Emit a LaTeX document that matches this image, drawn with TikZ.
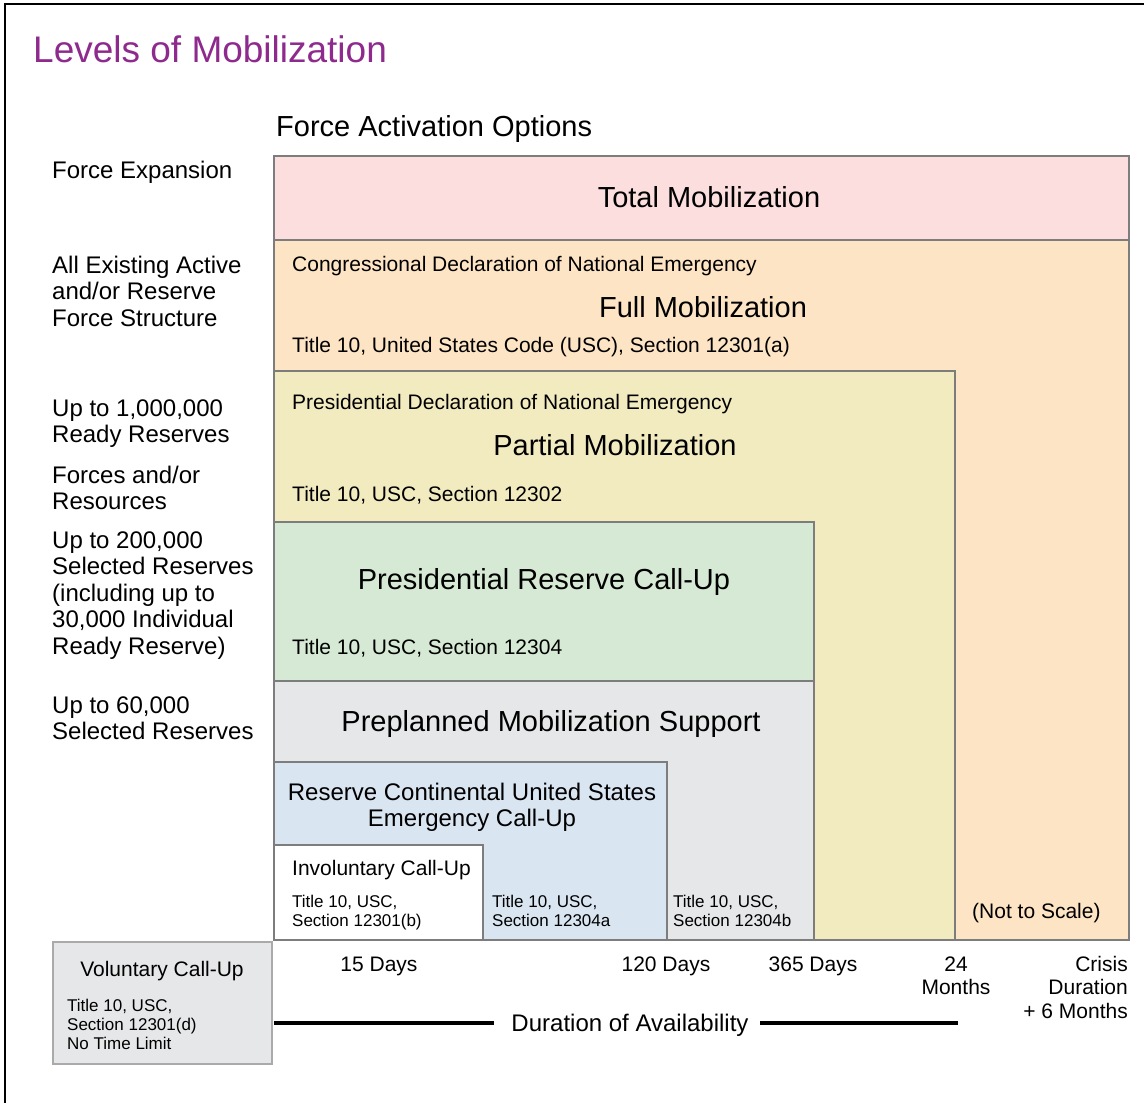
\documentclass[tikz,border=0pt]{standalone}
\usepackage{fontspec}
\setmainfont{Liberation Sans}
\definecolor{ttl}{RGB}{142,42,142}
\definecolor{cpink}{RGB}{252,222,223}
\definecolor{corange}{RGB}{253,228,196}
\definecolor{cyellow}{RGB}{243,235,192}
\definecolor{cgreen}{RGB}{213,233,212}
\definecolor{cgray}{RGB}{230,231,232}
\definecolor{cblue}{RGB}{218,229,242}
\definecolor{cedge}{RGB}{125,125,125}
\definecolor{cvedge}{RGB}{170,170,170}
\newcommand{\fsz}[1]{\fontsize{#1}{#1}\selectfont}
\tikzset{
  box/.style={draw=cedge, line width=1.5pt},
  big/.style={inner sep=0pt, anchor=base, font=\fsz{29}},
  mid/.style={inner sep=0pt, anchor=base west, font=\fsz{21}},
  sml/.style={inner sep=0pt, anchor=base west, align=left, font={\fontsize{17}{19}\selectfont}},
  lbl/.style={inner sep=0pt, anchor=base west, align=left, font={\fontsize{24}{26.6}\selectfont}},
  tick/.style={inner sep=0pt, anchor=base, align=center, font={\fontsize{21}{23.5}\selectfont}},
}
\begin{document}
\begin{tikzpicture}[x=1pt,y=-1pt]
\useasboundingbox (0,0) rectangle (1144,1103);
% frame
\draw[line width=2.5pt] (5,1103) -- (5,4) -- (1144,4);
% title
\node[inner sep=0pt, anchor=base west, font=\fsz{37}, text=ttl] (title) at (33,62) {Levels of Mobilization};
\node[inner sep=0pt, anchor=base west, font=\fsz{29}] (fao) at (276,136) {Force Activation Options};
% boxes
\draw[box, fill=corange] (274,240) rectangle (1129,940);
\draw[box, fill=cpink] (274,156) rectangle (1129,240);
\draw[box, fill=cyellow] (274,371) rectangle (955,940);
\draw[box, fill=cgreen] (274,522) rectangle (814,681);
\draw[box, fill=cgray] (274,681) rectangle (814,940);
\draw[box, fill=cblue] (274,762) rectangle (667,940);
\draw[box, fill=white] (274,845) rectangle (483,940);
\draw[line width=2.5pt, draw=cvedge, fill=cgray] (53,942) rectangle (272,1064);
% box texts
\node[big] (total) at (709,207) {Total Mobilization};
\node[mid] (cong) at (292,271) {Congressional Declaration of National Emergency};
\node[big] (full) at (703,317) {Full Mobilization};
\node[mid] (t10a) at (292,352) {Title 10, United States Code (USC), Section 12301(a)};
\node[mid] (pres) at (292,409) {Presidential Declaration of National Emergency};
\node[big] (partial) at (615,455) {Partial Mobilization};
\node[mid] (t12302) at (292,501) {Title 10, USC, Section 12302};
\node[big] (prc) at (544,589) {Presidential Reserve Call-Up};
\node[mid] (t12304) at (292,654) {Title 10, USC, Section 12304};
\node[big] (pms) at (551,731) {Preplanned Mobilization Support};
\node[inner sep=0pt, anchor=base, align=center, font={\fontsize{24}{26.5}\selectfont}] (rc) at (472,826.5) {Reserve Continental United States\\Emergency Call-Up};
\node[mid] (inv) at (292,875) {Involuntary Call-Up};
\node[sml] (t12301b) at (292,926) {Title 10, USC,\\Section 12301(b)};
\node[sml] (t12304a) at (492,926) {Title 10, USC,\\Section 12304a};
\node[sml] (t12304b) at (673,926) {Title 10, USC,\\Section 12304b};
\node[mid] (nts) at (972,918) {(Not to Scale)};
% voluntary
\node[inner sep=0pt, anchor=base, font=\fsz{21}] (vol) at (162,976) {Voluntary Call-Up};
\node[sml] (t12301d) at (67,1049) {Title 10, USC,\\Section 12301(d)\\No Time Limit};
% left labels
\node[lbl] (l1) at (52,178) {Force Expansion};
\node[lbl] (l2) at (52,326.2) {All Existing Active\\and/or Reserve\\Force Structure};
\node[lbl] (l3) at (52,442.6) {Up to 1,000,000\\Ready Reserves};
\node[lbl] (l4) at (52,509.6) {Forces and/or\\Resources};
\node[lbl] (l5) at (52,654.4) {Up to 200,000\\Selected Reserves\\(including up to\\30,000 Individual\\Ready Reserve)};
\node[lbl] (l6) at (52,739.6) {Up to 60,000\\Selected Reserves};
% ticks
\node[tick] (d15) at (379,971) {15 Days};
\node[tick] (d120) at (666,971) {120 Days};
\node[tick] (d365) at (813,971) {365 Days};
\node[tick] (m24) at (956,994.5) {24\\Months};
\node[inner sep=0pt, anchor=base east, align=right, font={\fontsize{21}{23.5}\selectfont}] (crisis) at (1128,1018) {Crisis\\Duration\\+ 6 Months};
% duration
\node[inner sep=0pt, anchor=base, font=\fsz{24}] (dur) at (630,1031) {Duration of Availability};
\coordinate (lineL) at (274,1023);
\coordinate (lineR) at (958,1023);
\draw[line width=3.5pt] (lineL) -- (lineL -| 494,0);
\draw[line width=3.5pt] (lineR -| 760,0) -- (lineR);
\end{tikzpicture}
\end{document}
